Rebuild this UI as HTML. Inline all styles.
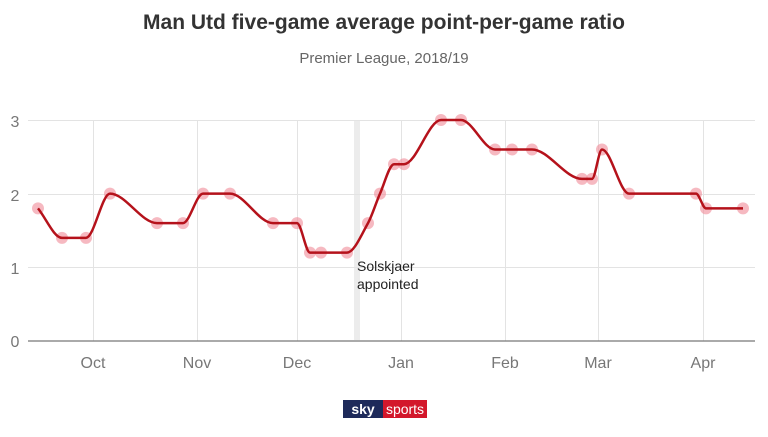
<!DOCTYPE html>
<html><head><meta charset="utf-8"><style>
body{margin:0;background:#fff;width:768px;height:432px;overflow:hidden;font-family:"Liberation Sans",sans-serif}
</style></head><body>
<svg id="s" width="768" height="432" xmlns="http://www.w3.org/2000/svg" font-family="Liberation Sans, sans-serif">
<text x="384" y="29" text-anchor="middle" font-size="21" font-weight="bold" fill="#333">Man Utd five-game average point-per-game ratio</text>
<text x="384" y="63" text-anchor="middle" font-size="15" fill="#666">Premier League, 2018/19</text>
<rect x="354" y="120" width="6" height="220" fill="#ececec"/>
<g stroke="#e3e3e3" stroke-width="1">
<line x1="28" y1="120.5" x2="755" y2="120.5"/><line x1="28" y1="194.5" x2="755" y2="194.5"/><line x1="28" y1="267.5" x2="755" y2="267.5"/>
<line x1="93.5" y1="120" x2="93.5" y2="341"/><line x1="197.5" y1="120" x2="197.5" y2="341"/><line x1="297.5" y1="120" x2="297.5" y2="341"/><line x1="401.5" y1="120" x2="401.5" y2="341"/><line x1="505.5" y1="120" x2="505.5" y2="341"/><line x1="598.5" y1="120" x2="598.5" y2="341"/><line x1="703.5" y1="120" x2="703.5" y2="341"/>
</g>
<line x1="28" y1="341" x2="755" y2="341" stroke="#777" stroke-width="1.3"/>
<g font-size="16" fill="#777" text-anchor="middle">
<text x="15" y="127">3</text><text x="15" y="201">2</text><text x="15" y="274">1</text><text x="15" y="347">0</text>
<text x="93" y="368">Oct</text><text x="197" y="368">Nov</text><text x="297" y="368">Dec</text><text x="401" y="368">Jan</text><text x="505" y="368">Feb</text><text x="598" y="368">Mar</text><text x="703" y="368">Apr</text>
</g>
<text x="357" y="271" font-size="14" fill="#222">Solskjaer</text>
<text x="357" y="289" font-size="14" fill="#222">appointed</text>
<g id="pts" fill="#f08a98" fill-opacity="0.6"></g>
<path id="ln" fill="none" stroke="#b5121b" stroke-width="2.5"/>
<rect x="343" y="400" width="40" height="18" fill="#1e2a5a"/>
<rect x="383" y="400" width="44" height="18" fill="#d3172b"/>
<text x="363" y="414" text-anchor="middle" font-size="14" font-weight="bold" fill="#fff">sky</text>
<text x="405" y="414" text-anchor="middle" font-size="14" fill="#fff">sports</text>
</svg>
<script>
var d=[[38,1.8],[62,1.4],[86,1.4],[110,2],[157,1.6],[183,1.6],[203,2],[230,2],[273,1.6],[297,1.6],[310,1.2],[321,1.2],[347,1.2],[368,1.6],[380,2],[394,2.4],[404,2.4],[441,3],[461,3],[495,2.6],[512,2.6],[532,2.6],[582,2.2],[592,2.2],[602,2.6],[629,2],[696,2],[706,1.8],[743,1.8]];
var NS="http://www.w3.org/2000/svg";
var P=d.map(function(a){return [a[0],341-a[1]*73.67]});
var n=P.length,sl=[],t=[];
for(var i=0;i<n-1;i++)sl.push((P[i+1][1]-P[i][1])/(P[i+1][0]-P[i][0]));
for(var i=0;i<n;i++){
 if(i==0)t.push(sl[0]);else if(i==n-1)t.push(sl[n-2]);
 else{var a=sl[i-1],b=sl[i];t.push(a*b<=0?0:2/(1/a+1/b));}
}
var p="M"+P[0][0]+","+P[0][1];
for(var i=1;i<n;i++){var h=(P[i][0]-P[i-1][0])/3;
 p+=" C"+(P[i-1][0]+h)+","+(P[i-1][1]+t[i-1]*h)+" "+(P[i][0]-h)+","+(P[i][1]-t[i]*h)+" "+P[i][0]+","+P[i][1];}
document.getElementById("ln").setAttribute("d",p);
var g=document.getElementById("pts");
P.forEach(function(q){var c=document.createElementNS(NS,"circle");c.setAttribute("cx",q[0]);c.setAttribute("cy",q[1]);c.setAttribute("r","6");g.appendChild(c);});
</script>
</body></html>
